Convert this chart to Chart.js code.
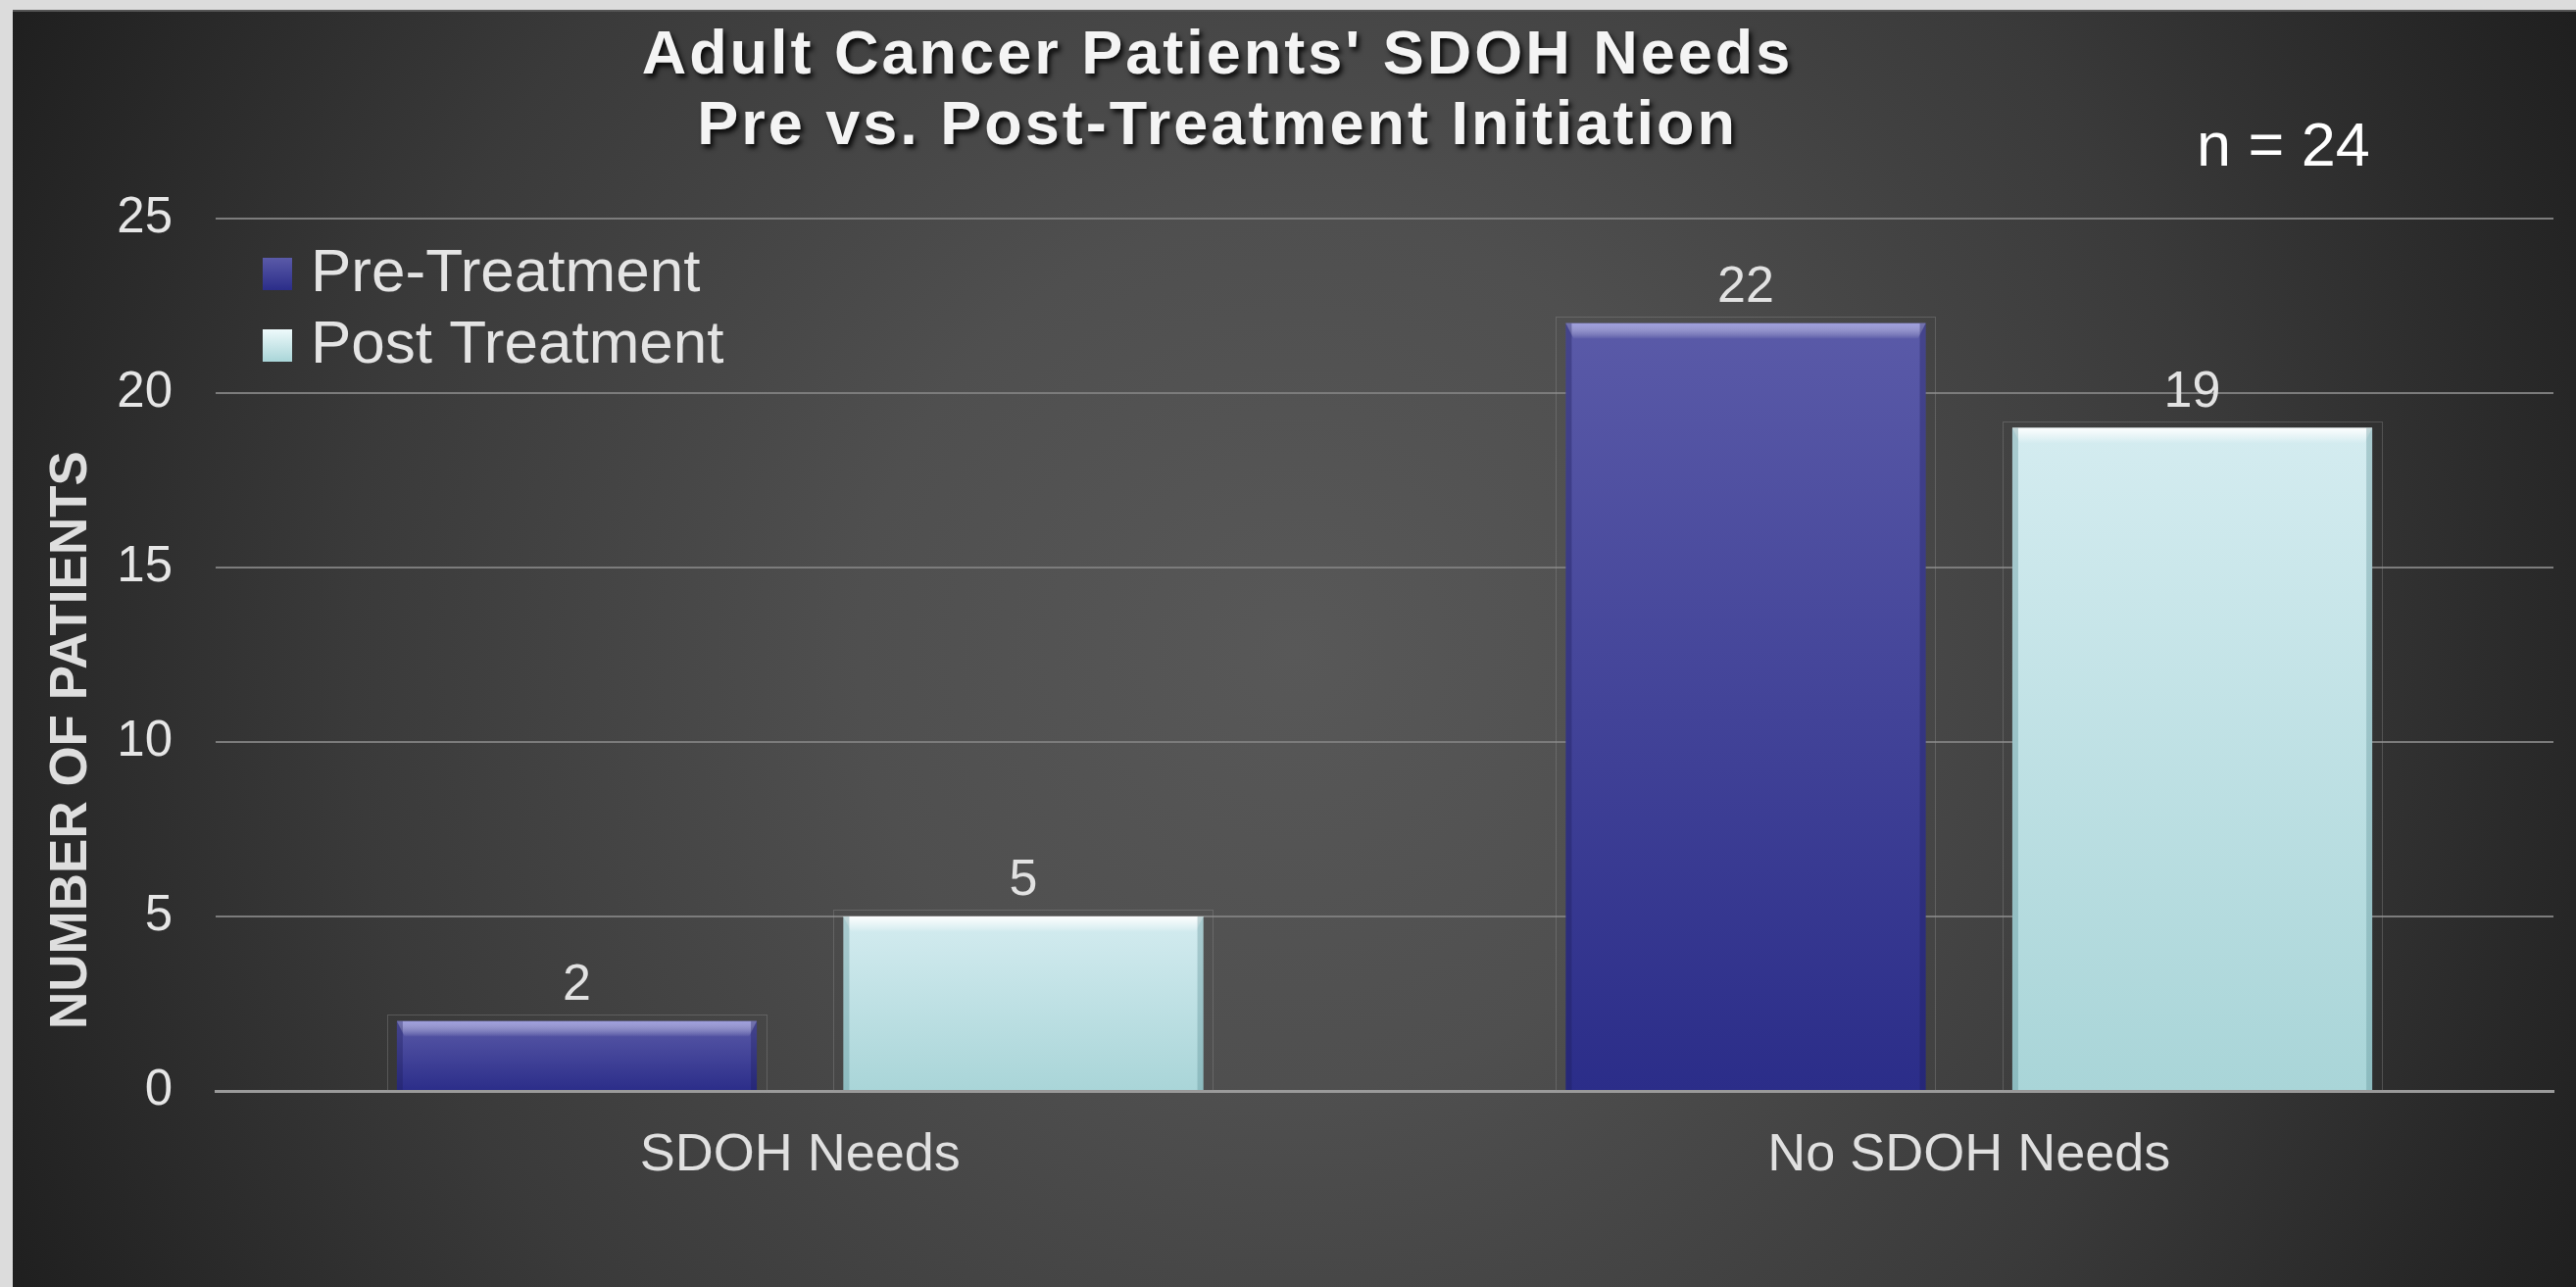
<!DOCTYPE html>
<html>
<head>
<meta charset="utf-8">
<script src="https://cdn.jsdelivr.net/npm/chart.js@4.4.1/dist/chart.umd.min.js"></script>
<style>
  html, body { margin: 0; padding: 0; background: #dcdcdc; overflow: hidden; }
  #wrap { position: absolute; left: 13px; top: 10px; width: 2615px; height: 1303px; }
</style>
</head>
<body>
<div id="wrap"><canvas id="c" width="2615" height="1303"></canvas></div>
<script>
const categories = ['SDOH Needs', 'No SDOH Needs'];
const seriesNames = ['Pre-Treatment', 'Post Treatment'];
const preTreatment = [2, 22];
const postTreatment = [5, 19];
const yTicks = [0, 5, 10, 15, 20, 25];
const titleLines = ["Adult Cancer Patients' SDOH Needs", 'Pre vs. Post-Treatment Initiation'];
const yAxisTitle = 'NUMBER OF PATIENTS';
const noteText = 'n = 24';

const FONT = '"Liberation Sans", Arial, sans-serif';
const PRE_TOP = '#5a5aa8', PRE_BOT = '#2b2d89';
const POST_TOP = '#d4ecf0', POST_BOT = '#a9d5d8';

function barGradient(top, bot) {
  return function (c) {
    const chart = c.chart;
    const ys = chart.scales && chart.scales.y;
    if (!ys || !chart.chartArea || c.raw === undefined) return top;
    const yTop = ys.getPixelForValue(c.raw);
    const yBot = ys.getPixelForValue(0);
    if (!isFinite(yTop) || !isFinite(yBot) || yTop === yBot) return top;
    const g = chart.ctx.createLinearGradient(0, yTop, 0, yBot);
    g.addColorStop(0, top);
    g.addColorStop(1, bot);
    return g;
  };
}

const bgPlugin = {
  id: 'bg',
  beforeDraw(chart) {
    const ctx = chart.ctx, w = chart.width, h = chart.height;
    ctx.save();
    const g = ctx.createRadialGradient(1307, 655, 0, 1307, 655, 1480);
    g.addColorStop(0, '#585858');
    g.addColorStop(0.3, '#4f4f4f');
    g.addColorStop(0.65, '#3a3a3a');
    g.addColorStop(1, '#1e1e1e');
    ctx.fillStyle = g;
    ctx.fillRect(0, 0, w, h);
    ctx.strokeStyle = '#555';
    ctx.lineWidth = 2;
    ctx.beginPath(); ctx.moveTo(0, 1); ctx.lineTo(w, 1); ctx.stroke();
    ctx.restore();
  }
};

const decorPlugin = {
  id: 'decor',
  beforeDatasetsDraw(chart) {
    const ctx = chart.ctx;
    ctx.save();
    ctx.strokeStyle = 'rgba(150,150,150,0.35)';
    ctx.lineWidth = 1;
    chart.data.datasets.forEach((ds, di) => {
      chart.getDatasetMeta(di).data.forEach(el => {
        const half = el.width / 2;
        ctx.strokeRect(Math.round(el.x - half - 10) + 0.5, Math.round(el.y - 7) + 0.5, Math.round(el.width + 20), Math.round(el.base - el.y + 7));
      });
    });
    ctx.restore();
  },
  afterDatasetsDraw(chart) {
    const ctx = chart.ctx;
    ctx.save();
    chart.data.datasets.forEach((ds, di) => {
      const hi = di === 0 ? 'rgba(170,170,230,0.85)' : 'rgba(255,255,255,0.95)';
      const side = di === 0 ? 'rgba(30,30,90,0.35)' : 'rgba(90,140,145,0.35)';
      chart.getDatasetMeta(di).data.forEach((el, i) => {
        const half = el.width / 2;
        const x0 = el.x - half, x1 = el.x + half, y0 = el.y;
        const g = ctx.createLinearGradient(0, y0, 0, y0 + 16);
        g.addColorStop(0, hi);
        g.addColorStop(1, 'rgba(255,255,255,0)');
        ctx.fillStyle = g;
        ctx.beginPath();
        ctx.moveTo(x0, y0); ctx.lineTo(x1, y0); ctx.lineTo(x1 - 8, y0 + 16); ctx.lineTo(x0 + 8, y0 + 16); ctx.closePath();
        ctx.fill();
        ctx.fillStyle = side;
        ctx.fillRect(x0, y0, 6, el.base - y0);
        ctx.fillRect(x1 - 6, y0, 6, el.base - y0);
        // value label
        ctx.fillStyle = '#e2e2e2';
        ctx.font = '52px ' + FONT;
        ctx.textAlign = 'center';
        ctx.textBaseline = 'alphabetic';
        ctx.fillText(String(ds.data[i]), el.x, y0 - 22);
      });
    });
    ctx.restore();
  },
  afterDraw(chart) {
    const ctx = chart.ctx;
    ctx.save();
    // title
    ctx.font = 'bold 63px ' + FONT;
    ctx.textAlign = 'center';
    ctx.textBaseline = 'alphabetic';
    try { ctx.letterSpacing = '3px'; } catch (e) {}
    ctx.shadowColor = 'rgba(0,0,0,0.85)';
    ctx.shadowOffsetX = 3; ctx.shadowOffsetY = 4; ctx.shadowBlur = 5;
    ctx.fillStyle = '#f4f4f4';
    ctx.fillText(titleLines[0], 1229, 65);
    ctx.fillText(titleLines[1], 1229, 137);
    ctx.shadowColor = 'transparent'; ctx.shadowBlur = 0; ctx.shadowOffsetX = 0; ctx.shadowOffsetY = 0;
    try { ctx.letterSpacing = '0px'; } catch (e) {}
    // note
    ctx.font = '63px ' + FONT;
    ctx.textAlign = 'left';
    ctx.fillStyle = '#ffffff';
    ctx.fillText(noteText, 2228, 159);
    // legend
    const rows = [287, 360];
    chart.data.datasets.forEach((ds, di) => {
      const by = rows[di];
      const my = by - 34;
      const g = ctx.createLinearGradient(0, my, 0, my + 33);
      g.addColorStop(0, di === 0 ? PRE_TOP : '#eefafb');
      g.addColorStop(1, di === 0 ? PRE_BOT : POST_BOT);
      ctx.fillStyle = g;
      ctx.fillRect(255, my, 30, 33);
      ctx.font = '62px ' + FONT;
      ctx.fillStyle = '#e4e4e4';
      ctx.fillText(ds.label, 304, by);
    });
    // y axis title
    ctx.translate(75, 745);
    ctx.rotate(-Math.PI / 2);
    ctx.font = 'bold 53px ' + FONT;
    ctx.textAlign = 'center';
    ctx.fillStyle = '#dedede';
    ctx.fillText(yAxisTitle, 0, 0);
    ctx.restore();
  }
};

new Chart(document.getElementById('c'), {
  type: 'bar',
  data: {
    labels: categories,
    datasets: [
      { label: seriesNames[0], data: preTreatment, backgroundColor: barGradient(PRE_TOP, PRE_BOT), borderWidth: 0 },
      { label: seriesNames[1], data: postTreatment, backgroundColor: barGradient(POST_TOP, POST_BOT), borderWidth: 0 }
    ]
  },
  options: {
    responsive: false,
    animation: false,
    devicePixelRatio: 1,
    categoryPercentage: 0.764,
    barPercentage: 0.806,
    layout: { padding: { top: 213, right: 23, left: 0, bottom: 0 } },
    plugins: { legend: { display: false }, title: { display: false }, tooltip: { enabled: false } },
    scales: {
      x: {
        grid: { display: false, drawTicks: false },
        border: { display: true, color: '#9a9a9a', width: 3 },
        ticks: { color: '#e0e0e0', font: { family: FONT, size: 54 }, padding: 34 },
        afterFit(s) { s.height = 200; }
      },
      y: {
        min: 0, max: 25,
        afterBuildTicks(s) { s.ticks = yTicks.map(v => ({ value: v })); },
        grid: { color: '#7c7c7c', lineWidth: 2, drawTicks: false },
        border: { display: false },
        ticks: { color: '#e6e6e6', font: { family: FONT, size: 51 }, padding: 44 },
        afterFit(s) { s.width = 207; }
      }
    }
  },
  plugins: [bgPlugin, decorPlugin]
});
</script>
</body>
</html>
